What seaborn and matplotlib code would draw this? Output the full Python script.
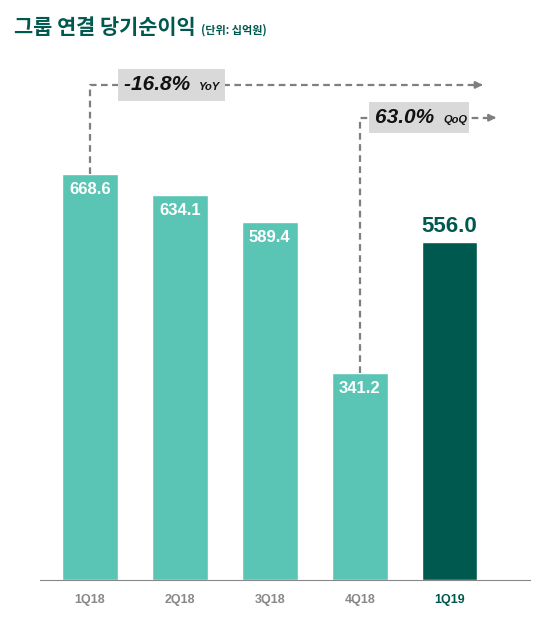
import matplotlib
matplotlib.use("Agg")
import matplotlib.pyplot as plt
import seaborn as sns
import pandas as pd

quarters = ["1Q18", "2Q18", "3Q18", "4Q18", "1Q19"]
net_income = [668.6, 634.1, 589.4, 341.2, 556.0]
light, dark = "#5BC5B5", "#00594F"
colors = [light, light, light, light, dark]

sns.set_style("white")
plt.rcParams["font.family"] = ["Liberation Sans", "Noto Sans CJK KR", "DejaVu Sans"]
num_font = "Liberation Sans"

df = pd.DataFrame({"q": quarters, "v": net_income})
fig = plt.figure(figsize=(5.44, 6.22), dpi=100)
ax = fig.add_axes([0.0735, 0.0675, 0.9, 0.836])
sns.barplot(data=df, x="q", y="v", hue="q", palette=colors, legend=False,
            width=0.62, ax=ax, saturation=1)
ax.set_xlim(-0.556, 4.89)
ax.set_ylim(0, 856)
ax.set_xlabel("")
ax.set_ylabel("")
ax.set_yticks([])
for s in ["top", "right", "left"]:
    ax.spines[s].set_visible(False)
ax.spines["bottom"].set_color("#888888")
ax.tick_params(axis="x", length=0, pad=10)
for i, lab in enumerate(ax.get_xticklabels()):
    lab.set_fontweight("bold")
    lab.set_fontsize(9)
    lab.set_color(dark if i == 4 else "#888888")

for i, v in enumerate(net_income):
    if i < 4:
        ax.text(i, v - 14, f"{v:.1f}", ha="center", va="top", color="white",
                fontsize=12, fontweight="bold", family=num_font)
    else:
        ax.text(i, v + 8, f"{v:.1f}", ha="center", va="bottom", color=dark,
                fontsize=16, fontweight="bold", family=num_font)

# YoY / QoQ annotations
gray = "#7F7F7F"
def change_arrow(x0, y0, y_line, x_end, text, small, x_box, x_small):
    ax.plot([x0, x0, x_end], [y0, y_line, y_line], ls=(0, (3, 2)), color=gray, lw=1.6)
    ax.annotate("", xy=(x_end + 0.1, y_line), xytext=(x_end, y_line),
                arrowprops=dict(arrowstyle="-|>", color=gray, lw=1.6))
    ax.text(x_box, y_line, text + "     ", ha="left", va="center", fontsize=15,
            fontweight="bold", fontstyle="italic", family=num_font, color="#111111",
            bbox=dict(boxstyle="square,pad=0.3", fc="#D9D9D9", ec="none"))
    ax.text(x_small, y_line - 4, small, fontsize=8, fontweight="bold",
            fontstyle="italic", va="center", family=num_font, color="#111111")

change_arrow(0, net_income[0], 815, 4.3, "-16.8%", "YoY", 0.38, 1.2)
change_arrow(3, net_income[3], 761, 4.45, "63.0%", "QoQ", 3.17, 3.93)

fig.text(0.025, 0.955, "그룹 연결 당기순이익", fontsize=15, fontweight="bold",
         color="#00594F", va="center", family=["Noto Sans CJK KR"])
fig.text(0.37, 0.952, "(단위: 십억원)", fontsize=8, fontweight="bold",
         color="#00594F", va="center", family=["Noto Sans CJK KR"])

fig.savefig("out.png", dpi=100)
